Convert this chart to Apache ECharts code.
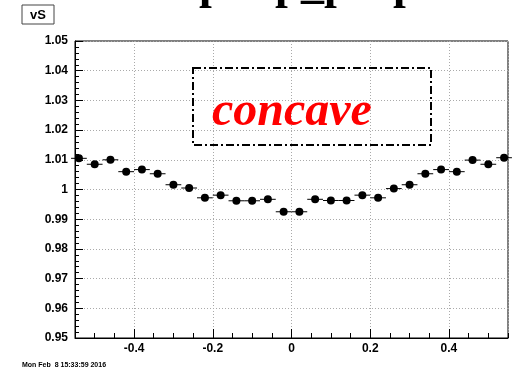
<!DOCTYPE html>
<html>
<head>
<meta charset="utf-8">
<script src="https://cdn.jsdelivr.net/npm/echarts@6/dist/echarts.min.js"></script>
<style>
html,body{margin:0;padding:0;background:#fff;}
#c{width:513px;height:373px;}
</style>
</head>
<body>
<div id="c"></div>
<script>
// ---- data ----
const xCenters = [-0.54,-0.50,-0.46,-0.42,-0.38,-0.34,-0.30,-0.26,-0.22,-0.18,-0.14,-0.10,-0.06,-0.02,
                   0.02, 0.06, 0.10, 0.14, 0.18, 0.22, 0.26, 0.30, 0.34, 0.38, 0.42, 0.46, 0.50, 0.54];
const yValues = [1.0105,1.0085,1.0100,1.0060,1.0067,1.0053,1.0016,1.0005,0.9972,0.9981,0.9962,0.9962,0.9967,0.9925,
                 0.9925,0.9967,0.9963,0.9963,0.9981,0.9972,1.0003,1.0016,1.0053,1.0067,1.0060,1.0099,1.0085,1.0107];
const binHalfWidth = 0.02;
const xRange = [-0.55, 0.55];
const yRange = [0.95, 1.05];
const legendLabel = 'vS';
const annotation = 'concave';
const dateStamp = 'Mon Feb  8 15:33:59 2016';

const points = xCenters.map((x, i) => [x, yValues[i]]);

const chart = echarts.init(document.getElementById('c'), null, {renderer: 'canvas'});
const labelFont = {color: '#000', fontFamily: 'Liberation Sans', fontWeight: 'bold', fontSize: 12};

chart.setOption({
  animation: false,
  backgroundColor: '#fff',
  grid: {left: 75, right: 5, top: 41, bottom: 35, show: true, borderColor: '#000', borderWidth: 1, backgroundColor: 'transparent'},
  xAxis: [{
    type: 'value', min: xRange[0], max: xRange[1], splitNumber: 5,
    axisLine: {show: true, onZero: false, lineStyle: {color: '#000', width: 1}},
    axisTick: {show: true, inside: true, length: 9, lineStyle: {color: '#000'}},
    axisLabel: Object.assign({margin: 5, showMinLabel: false, showMaxLabel: false}, labelFont),
    splitLine: {show: true, lineStyle: {color: '#aaa', type: [1, 2], width: 1}}
  }, {
    type: 'value', min: xRange[0], max: xRange[1], interval: 0.05, position: 'bottom',
    axisLine: {show: false},
    axisTick: {show: true, inside: true, length: 5, lineStyle: {color: '#000'}},
    axisLabel: {show: false},
    splitLine: {show: false}
  }],
  yAxis: {
    type: 'value', min: yRange[0], max: yRange[1], interval: 0.01,
    axisLine: {show: true, onZero: false, lineStyle: {color: '#000', width: 1}},
    axisTick: {show: true, inside: true, length: 8, lineStyle: {color: '#000'}},
    minorTick: {show: true, splitNumber: 5, length: 4, lineStyle: {color: '#000'}},
    axisLabel: Object.assign({margin: 7}, labelFont),
    splitLine: {show: true, lineStyle: {color: '#aaa', type: [1, 2], width: 1}}
  },
  series: [{
    type: 'custom',
    xAxisIndex: 0,
    data: points,
    renderItem: function (params, api) {
      const x = api.value(0), y = api.value(1);
      const p1 = api.coord([x - binHalfWidth, y]);
      const p2 = api.coord([x + binHalfWidth, y]);
      return {type: 'line', shape: {x1: p1[0], y1: p1[1], x2: p2[0], y2: p2[1]},
              style: {stroke: '#000', lineWidth: 1}};
    },
    z: 2
  }, {
    type: 'scatter',
    xAxisIndex: 0,
    data: points,
    symbol: 'circle',
    symbolSize: 8,
    itemStyle: {color: '#000', opacity: 1},
    z: 3
  }],
  graphic: [
    // cut-off title glyphs at top
    {type: 'text', x: 199, y: -37, style: {text: 'p', font: 'bold 46px "Liberation Serif"', fill: '#000'}},
    {type: 'text', x: 275, y: -37, style: {text: 'p', font: 'bold 46px "Liberation Serif"', fill: '#000'}},
    {type: 'text', x: 301, y: -37, style: {text: '_p', font: 'bold 46px "Liberation Serif"', fill: '#000'}},
    {type: 'text', x: 393, y: -37, style: {text: 'p', font: 'bold 46px "Liberation Serif"', fill: '#000'}},
    // legend box
    {type: 'rect', shape: {x: 22, y: 5, width: 32, height: 19}, style: {fill: '#fff', stroke: '#444', lineWidth: 1}},
    {type: 'text', x: 38, y: 15, style: {text: legendLabel, font: 'bold 13px "Liberation Sans"', fill: '#000', align: 'center', verticalAlign: 'middle'}},
    // dash-dot annotation box
    {type: 'rect', shape: {x: 193, y: 68, width: 238, height: 77},
     style: {fill: 'none', stroke: '#000', lineWidth: 2, lineDash: [8, 3, 2, 3]}, z: 10},
    {type: 'text', x: 212, y: 113, style: {text: annotation, font: 'italic bold 48px "Liberation Serif"', fill: '#ff0000', verticalAlign: 'middle'}, z: 10},
    // date stamp
    {type: 'text', x: 22, y: 365, style: {text: dateStamp, font: 'bold 7px "Liberation Sans"', fill: '#000', verticalAlign: 'middle'}}
  ]
});
</script>
</body>
</html>
